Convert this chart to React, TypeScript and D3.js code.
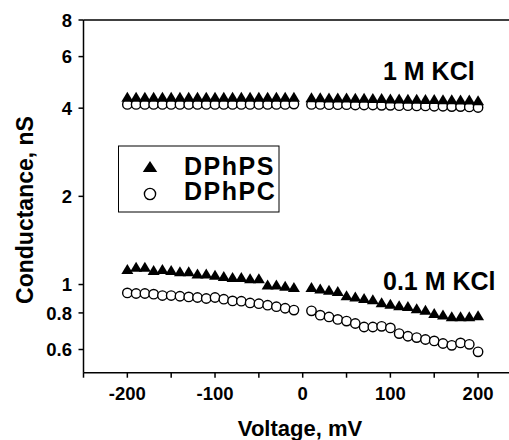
import React from "react";
import * as d3 from "d3";

const voltLeft = [-200, -190, -180, -170, -160, -150, -140, -130, -120, -110, -100, -90, -80, -70, -60, -50, -40, -30, -20, -10];
const voltRight = [10, 20, 30, 40, 50, 60, 70, 80, 90, 100, 110, 120, 130, 140, 150, 160, 170, 180, 190, 200];

// 1 M KCl
const ps1MLeft = [4.38, 4.38, 4.38, 4.38, 4.38, 4.38, 4.38, 4.38, 4.38, 4.38, 4.38, 4.38, 4.38, 4.38, 4.38, 4.38, 4.38, 4.38, 4.38, 4.38];
const ps1MRight = [4.36, 4.36, 4.35, 4.35, 4.35, 4.34, 4.34, 4.33, 4.33, 4.32, 4.32, 4.31, 4.31, 4.3, 4.3, 4.29, 4.29, 4.28, 4.28, 4.26];
const pc1MLeft = [4.12, 4.12, 4.12, 4.12, 4.12, 4.12, 4.12, 4.12, 4.12, 4.12, 4.12, 4.12, 4.12, 4.12, 4.12, 4.12, 4.12, 4.12, 4.12, 4.13];
const pc1MRight = [4.12, 4.12, 4.11, 4.11, 4.11, 4.1, 4.1, 4.1, 4.09, 4.09, 4.08, 4.08, 4.07, 4.07, 4.06, 4.06, 4.05, 4.05, 4.04, 4.02];

// 0.1 M KCl
const ps01Left = [1.13, 1.15, 1.15, 1.12, 1.13, 1.12, 1.11, 1.11, 1.09, 1.09, 1.08, 1.07, 1.06, 1.06, 1.05, 1.05, 1.0, 1.0, 0.99, 0.98];
const ps01Right = [0.98, 0.97, 0.96, 0.95, 0.92, 0.91, 0.9, 0.89, 0.87, 0.86, 0.85, 0.845, 0.83, 0.82, 0.8, 0.79, 0.78, 0.78, 0.78, 0.785];
const pc01Left = [0.936, 0.932, 0.932, 0.927, 0.917, 0.917, 0.912, 0.907, 0.903, 0.896, 0.903, 0.891, 0.879, 0.877, 0.865, 0.86, 0.85, 0.84, 0.83, 0.818];
const pc01Right = [0.813, 0.786, 0.775, 0.76, 0.75, 0.736, 0.716, 0.716, 0.72, 0.711, 0.68, 0.666, 0.659, 0.649, 0.642, 0.629, 0.62, 0.632, 0.625, 0.589];

const xTickLabels = [-200, -100, 0, 100, 200];
const xTickAll = [-250, -200, -150, -100, -50, 0, 50, 100, 150, 200, 250];
const yTickLabels = [0.6, 0.8, 1, 2, 4, 6, 8];

const legendNames = ["DPhPS", "DPhPC"];

const FONT = "'Liberation Sans', Arial, Helvetica, sans-serif";

function triPath(cx: number, cy: number, w: number, h: number) {
  return `M${cx},${cy - h / 2}L${cx + w / 2},${cy + h / 2}L${cx - w / 2},${cy + h / 2}Z`;
}

export default function App() {
  const W = 509;
  const H = 440;
  const x = d3.scaleLinear().domain([-250, 250]).range([83.5, 83.5 + 500 * 0.8768]);
  const y = d3.scaleLog().domain([0.5, 8]).range([372.7, 20]);
  const x0 = x(-250);
  const yBottom = y(0.5);
  const yTop = y(8);

  const psSets: [number[], number[]][] = [
    [voltLeft, ps1MLeft],
    [voltRight, ps1MRight],
    [voltLeft, ps01Left],
    [voltRight, ps01Right],
  ];
  const pcSets: [number[], number[]][] = [
    [voltLeft, pc1MLeft],
    [voltRight, pc1MRight],
    [voltLeft, pc01Left],
    [voltRight, pc01Right],
  ];

  const circles: { cx: number; cy: number }[] = [];
  pcSets.forEach(([vs, gs]) => vs.forEach((v, i) => circles.push({ cx: x(v), cy: y(gs[i]) })));
  const tris: { cx: number; cy: number }[] = [];
  psSets.forEach(([vs, gs]) => vs.forEach((v, i) => tris.push({ cx: x(v), cy: y(gs[i]) })));

  return (
    <svg
      width={W}
      height={H}
      style={{ position: "absolute", left: 0, top: 0, background: "#fff" }}
      fontFamily={FONT}
      fontWeight="bold"
    >
      <rect x={0} y={0} width={W} height={H} fill="#fff" />
      {/* axes frame */}
      <line x1={x0} x2={W} y1={yTop} y2={yTop} stroke="#000" strokeWidth={1.5} />
      <line x1={x0} x2={x0} y1={yTop} y2={yBottom} stroke="#000" strokeWidth={1.5} />
      <line x1={x0} x2={W} y1={yBottom} y2={yBottom} stroke="#000" strokeWidth={1.5} />

      {/* x ticks */}
      {xTickAll.map((t) => (
        <line key={"xt" + t} x1={x(t)} x2={x(t)} y1={yBottom} y2={yBottom + 5} stroke="#000" strokeWidth={1.5} />
      ))}
      {xTickLabels.map((t) => (
        <text key={"xl" + t} x={x(t)} y={400} fontSize={18.5} textAnchor="middle" fill="#000">
          {t}
        </text>
      ))}

      {/* y ticks */}
      {yTickLabels.map((t) => (
        <g key={"yt" + t}>
          <line x1={x0 - 5} x2={x0} y1={y(t)} y2={y(t)} stroke="#000" strokeWidth={1.5} />
          <text x={72} y={y(t)} dy="0.36em" fontSize={18.5} textAnchor="end" fill="#000">
            {t}
          </text>
        </g>
      ))}

      {/* axis titles */}
      <text x={300} y={436} fontSize={22} textAnchor="middle" fill="#000">
        Voltage, mV
      </text>
      <text transform="translate(33,210) rotate(-90)" fontSize={23} textAnchor="middle" fill="#000">
        Conductance, nS
      </text>

      {/* data */}
      {circles.map((c, i) => (
        <circle key={"c" + i} cx={c.cx} cy={c.cy} r={4.7} fill="#fff" stroke="#000" strokeWidth={1.4} />
      ))}
      {tris.map((t, i) => (
        <path key={"t" + i} d={triPath(t.cx, t.cy, 12, 10)} fill="#000" />
      ))}

      {/* annotations */}
      <text x={383} y={80} fontSize={25} fill="#000">
        1 M KCl
      </text>
      <text x={383} y={290} fontSize={25} fill="#000">
        0.1 M KCl
      </text>

      {/* legend */}
      <rect x={118.5} y={146} width={160.5} height={66} fill="#fff" stroke="#000" strokeWidth={1} />
      <path d={triPath(150, 166.5, 14.5, 11)} fill="#000" />
      <circle cx={150} cy={194} r={5.6} fill="#fff" stroke="#000" strokeWidth={1.4} />
      <text x={184} y={175} fontSize={25} letterSpacing={1.5} fill="#000">
        {legendNames[0]}
      </text>
      <text x={184} y={200} fontSize={25} letterSpacing={1.5} fill="#000">
        {legendNames[1]}
      </text>
    </svg>
  );
}
